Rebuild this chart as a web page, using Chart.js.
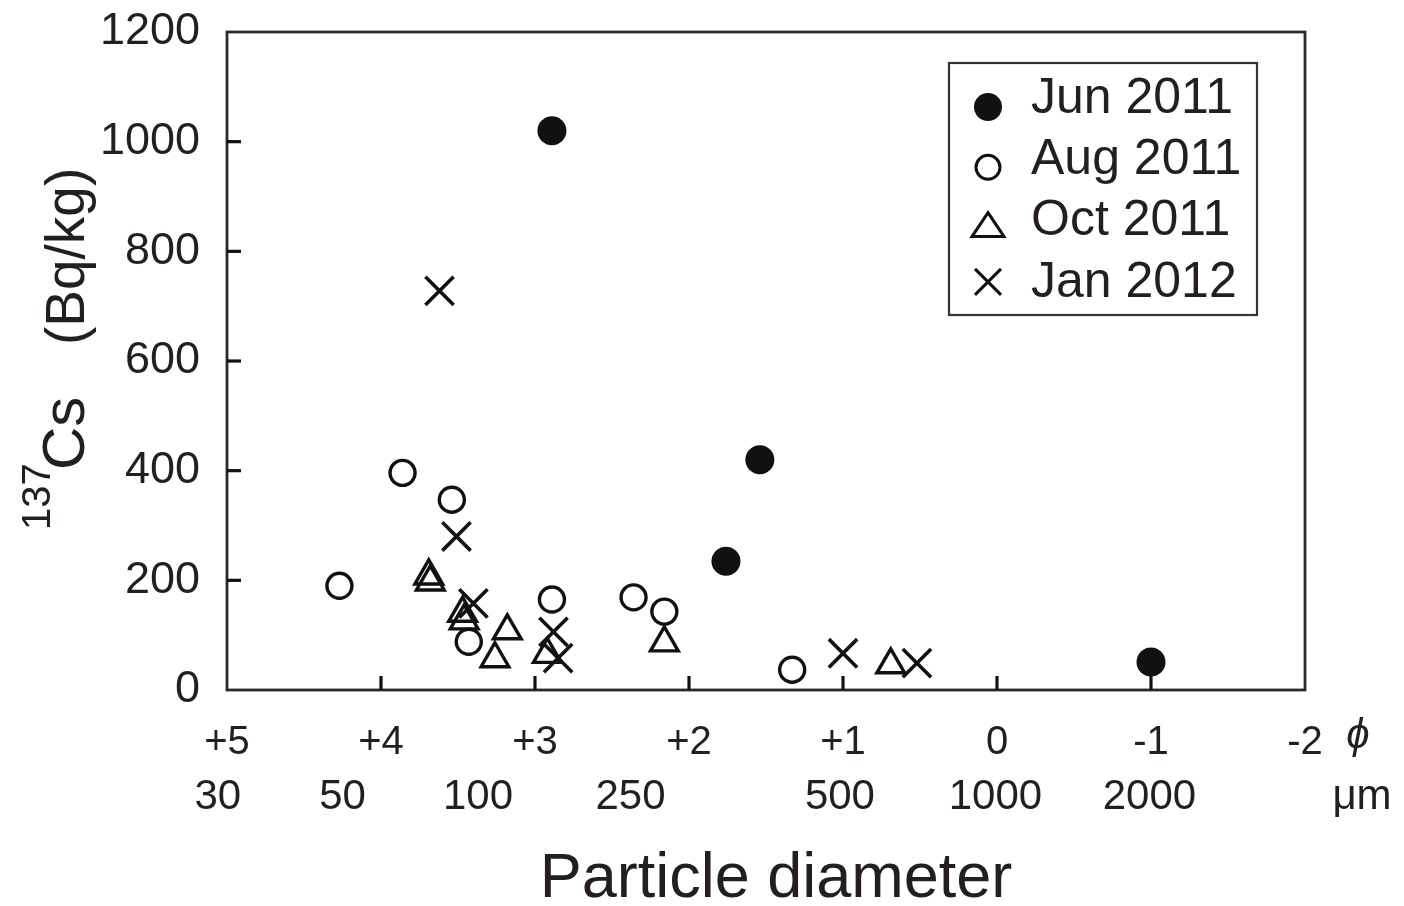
<!DOCTYPE html>
<html><head><meta charset="utf-8">
<script src="https://cdn.jsdelivr.net/npm/chart.js@4/dist/chart.umd.min.js"></script>
<style>html,body{margin:0;padding:0;background:#fff}#wrap{width:1404px;height:906px}</style>
</head><body><div id="wrap"><canvas id="c" width="1404" height="906"></canvas></div>
<script>
// ---- data ----
const seriesNames = ['Jun 2011', 'Aug 2011', 'Oct 2011', 'Jan 2012'];
const junPhi = [2.89, 1.54, 1.76, -1.0];
const junCs  = [1020, 420, 235, 51];
const augPhi = [4.27, 3.86, 3.54, 3.43, 2.89, 2.36, 2.16, 1.33];
const augCs  = [190, 396, 347, 88, 165, 169, 143, 37];
const octPhi = [3.69, 3.68, 3.47, 3.46, 3.18, 3.26, 2.92, 2.16, 0.69];
const octCs  = [208, 197, 140, 126, 108, 57, 65, 86, 46];
const janPhi = [3.62, 3.51, 3.40, 2.88, 2.85, 1.00, 0.52];
const janCs  = [728, 280, 158, 106, 58, 67, 49];
const phiTicks = [5, 4, 3, 2, 1, 0, -1, -2];
const yTicks = [0, 200, 400, 600, 800, 1000, 1200];
const umLabels = ['30', '50', '100', '250', '500', '1000', '2000'];
const umPhiPos = [5.06, 4.25, 3.37, 2.38, 1.02, 0.01, -0.99];

const FONT = "'Liberation Sans', Arial, sans-serif";
const TXT = '#231f20';
const INK = '#111';

function pts(xs, ys) { return xs.map((x, i) => ({ x: x, y: ys[i] })); }

function drawMarker(ctx, style, x, y) {
  ctx.save();
  ctx.strokeStyle = INK; ctx.fillStyle = INK; ctx.lineWidth = 3;
  if (style === 'dot') {
    ctx.beginPath(); ctx.arc(x, y, 14, 0, Math.PI * 2); ctx.fill();
  } else if (style === 'circle') {
    ctx.beginPath(); ctx.arc(x, y, 12, 0, Math.PI * 2); ctx.stroke();
  } else if (style === 'triangle') {
    ctx.beginPath(); ctx.moveTo(x, y - 13); ctx.lineTo(x + 16, y + 11); ctx.lineTo(x - 16, y + 11); ctx.closePath(); ctx.stroke();
  } else {
    const d = 13;
    ctx.beginPath(); ctx.moveTo(x - d, y - d); ctx.lineTo(x + d, y + d); ctx.moveTo(x + d, y - d); ctx.lineTo(x - d, y + d); ctx.stroke();
  }
  ctx.restore();
}

const decor = {
  id: 'decor',
  afterDraw(chart) {
    const ctx = chart.ctx, a = chart.chartArea, xs = chart.scales.x, ys = chart.scales.y;
    ctx.save();
    // frame
    ctx.strokeStyle = '#2a2a2a'; ctx.lineWidth = 2.8;
    ctx.strokeRect(a.left, a.top, a.right - a.left, a.bottom - a.top);
    // inward ticks
    ctx.lineWidth = 3.2; ctx.strokeStyle = INK;
    ys.ticks.forEach(t => {
      if (t.value <= ys.min || t.value >= ys.max) return;
      const p = ys.getPixelForValue(t.value);
      ctx.beginPath(); ctx.moveTo(a.left, p); ctx.lineTo(a.left + 14, p); ctx.stroke();
    });
    xs.ticks.forEach(t => {
      if (t.value <= xs.min || t.value >= xs.max) return;
      const p = xs.getPixelForValue(t.value);
      ctx.beginPath(); ctx.moveTo(p, a.bottom); ctx.lineTo(p, a.bottom - 14); ctx.stroke();
    });
    // second label row (micrometres)
    ctx.fillStyle = TXT; ctx.textAlign = 'center'; ctx.textBaseline = 'middle';
    ctx.font = '42px ' + FONT;
    umLabels.forEach((s, i) => ctx.fillText(s, xs.getPixelForValue(umPhiPos[i]), 797));
    ctx.fillText('μm', a.right + 57, 797);
    ctx.font = 'italic 42px ' + FONT;
    ctx.fillText('ϕ', a.right + 53, 736);
    // x title
    ctx.font = '63px ' + FONT; ctx.textBaseline = 'alphabetic';
    ctx.fillText('Particle diameter', 776, 897);
    // y title
    ctx.save();
    ctx.translate(84, 530); ctx.rotate(-Math.PI / 2);
    ctx.textAlign = 'left';
    ctx.font = '40px ' + FONT; ctx.fillText('137', 0, -34);
    ctx.font = '60px ' + FONT; ctx.fillText('Cs', 60, 0);
    ctx.font = '55px ' + FONT; ctx.fillText('(Bq/kg)', 185, 0);
    ctx.restore();
    // legend
    ctx.strokeStyle = '#333'; ctx.lineWidth = 2.2;
    ctx.strokeRect(949, 63, 308, 252);
    const styles = ['dot', 'circle', 'triangle', 'cross'];
    const offs = [10, 9, 6, 1];
    ctx.font = '50px ' + FONT; ctx.textAlign = 'left'; ctx.textBaseline = 'middle'; ctx.fillStyle = TXT;
    chart.data.datasets.forEach((ds, i) => {
      const ry = 97 + i * 61.3;
      drawMarker(ctx, styles[i], 988, ry + offs[i]);
      ctx.fillText(ds.label, 1031, ry + 2);
    });
    ctx.restore();
  }
};

new Chart(document.getElementById('c'), {
  type: 'scatter',
  data: {
    datasets: [
      { label: seriesNames[0], data: pts(junPhi, junCs), pointStyle: 'circle', pointRadius: 14.5, borderWidth: 0, backgroundColor: INK, borderColor: INK },
      { label: seriesNames[1], data: pts(augPhi, augCs), pointStyle: 'circle', pointRadius: 12.5, borderWidth: 3.4, backgroundColor: 'rgba(0,0,0,0)', borderColor: INK },
      { label: seriesNames[2], data: pts(octPhi, octCs), pointStyle: 'triangle', pointRadius: 16, borderWidth: 3.4, backgroundColor: 'rgba(0,0,0,0)', borderColor: INK },
      { label: seriesNames[3], data: pts(janPhi, janCs), pointStyle: 'crossRot', pointRadius: 20, borderWidth: 3.6, backgroundColor: INK, borderColor: INK }
    ]
  },
  options: {
    responsive: false, animation: false, devicePixelRatio: 1,
    layout: { padding: { top: 32, right: 99, left: 0, bottom: 0 } },
    plugins: { legend: { display: false }, tooltip: { enabled: false } },
    scales: {
      x: {
        type: 'linear', min: -2, max: 5, reverse: true,
        afterBuildTicks: s => { s.ticks = phiTicks.map(v => ({ value: v })); },
        afterFit: s => { s.height = 216; s.paddingLeft = 0; s.paddingRight = 0; },
        ticks: { callback: v => (v > 0 ? '+' + v : String(v)), font: { family: FONT, size: 40 }, color: TXT, padding: 29, maxRotation: 0, autoSkip: false },
        grid: { display: false, drawTicks: false }, border: { display: false }
      },
      y: {
        min: 0, max: 1200,
        afterBuildTicks: s => { s.ticks = yTicks.map(v => ({ value: v })); },
        afterFit: s => { s.width = 227; s.paddingTop = 0; s.paddingBottom = 0; },
        ticks: { callback: v => String(v), font: { family: FONT, size: 45 }, color: TXT, padding: 27, autoSkip: false },
        grid: { display: false, drawTicks: false }, border: { display: false }
      }
    }
  },
  plugins: [decor]
});
</script></body></html>
